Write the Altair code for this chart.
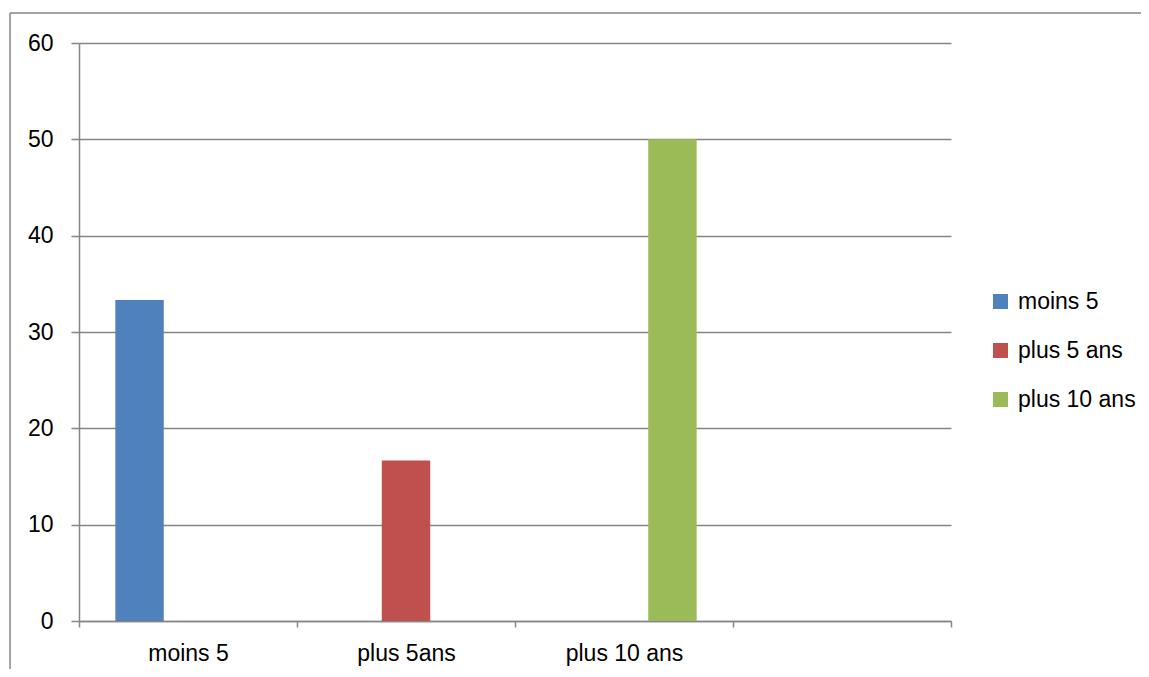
import altair as alt
import pandas as pd

categories = ["moins 5", "plus 5ans", "plus 10 ans", " "]
series = ["moins 5", "plus 5 ans", "plus 10 ans"]
bar_category = ["moins 5", "plus 5ans", "plus 10 ans"]
values = [33.33, 16.67, 50.0]
colors = ["#4F81BD", "#C0504D", "#9BBB59"]
y_ticks = [0, 10, 20, 30, 40, 50, 60]

df = pd.DataFrame({"category": bar_category, "series": series, "value": values})

GRAY = "#868686"
FONT = "Liberation Sans"

bars = alt.Chart(df).mark_bar().encode(
    x=alt.X("category:N",
            scale=alt.Scale(domain=categories, paddingInner=0, paddingOuter=0),
            axis=alt.Axis(title=None, labelAngle=0, tickBand="extent", tickSize=6,
                          labelPadding=15, domainColor=GRAY, tickColor=GRAY,
                          tickWidth=1.5, domainWidth=1.5, grid=False)),
    xOffset=alt.XOffset("series:N",
                        scale=alt.Scale(domain=series, paddingInner=0, paddingOuter=0.75)),
    y=alt.Y("value:Q",
            scale=alt.Scale(domain=[0, 60], nice=False),
            axis=alt.Axis(title=None, values=y_ticks, tickSize=8, labelPadding=18,
                          domainColor=GRAY, tickColor=GRAY, gridColor=GRAY,
                          tickWidth=1.5, domainWidth=1.5, gridWidth=1.5, gridOpacity=1)),
    color=alt.Color("series:N",
                    scale=alt.Scale(domain=series, range=colors),
                    legend=alt.Legend(title=None, orient="none", legendX=910, legendY=247,
                                      symbolType="square", symbolSize=225,
                                      symbolStrokeWidth=0, labelOffset=6,
                                      rowPadding=25, labelFontSize=23,
                                      labelFont=FONT, labelColor="#000")),
)

frame_df = pd.DataFrame({"a": [0]})
frame_top = alt.Chart(frame_df).mark_rule(stroke=GRAY, strokeWidth=1.5).encode(
    x=alt.value(-69), x2=alt.value(1062), y=alt.value(-30)
)
frame_left = alt.Chart(frame_df).mark_rule(stroke=GRAY, strokeWidth=1.5).encode(
    x=alt.value(-69), y=alt.value(-30), y2=alt.value(626)
)

chart = alt.layer(frame_top, frame_left, bars).properties(
    width=872, height=578,
    autosize=alt.AutoSizeParams(type="none"),
    padding={"left": 71, "top": 35, "right": 190, "bottom": 48},
).configure_view(stroke=None).configure_axis(
    labelFont=FONT, labelFontSize=23, labelColor="#000"
)

chart.save("out.html", embed_options={"renderer": "svg", "actions": False})
